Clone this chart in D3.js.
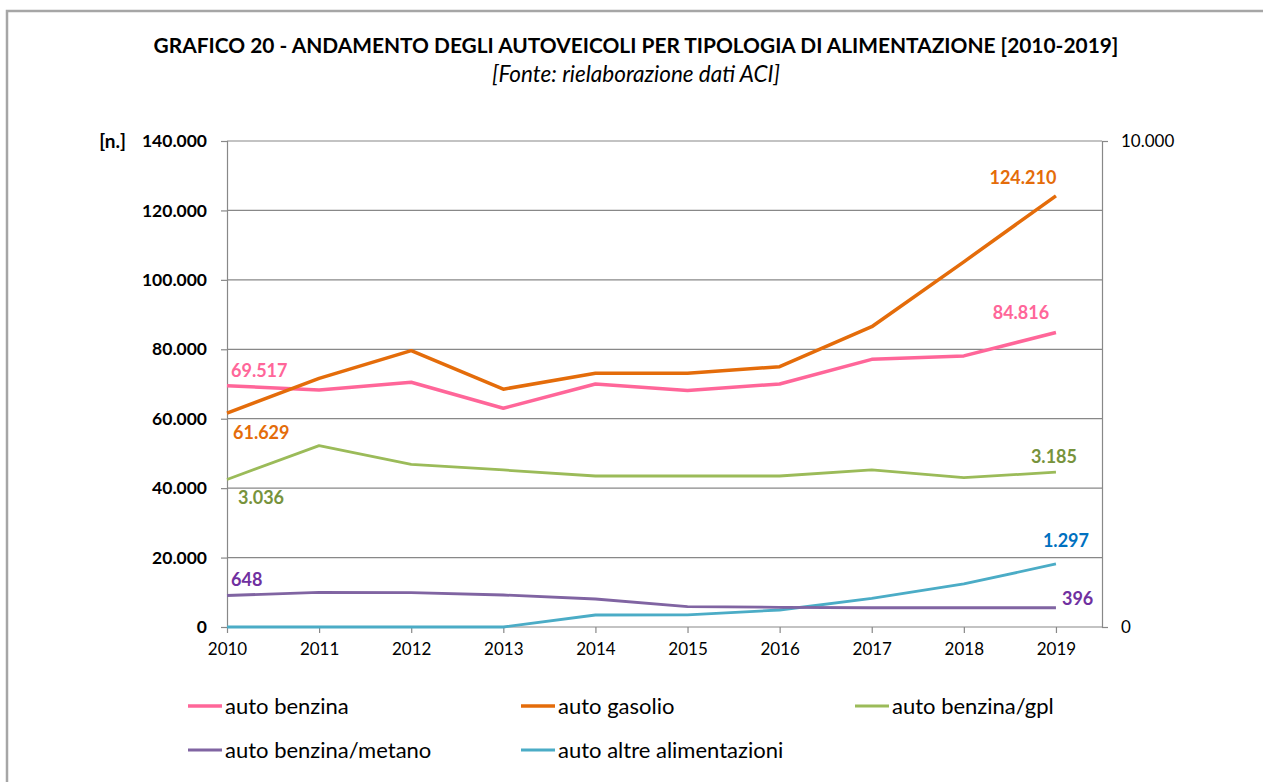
<!DOCTYPE html>
<html>
<head>
<meta charset="utf-8">
<script src="https://cdn.jsdelivr.net/npm/d3@7"></script>
<style>
  body { margin: 0; background: #fff; }
  svg { display: block; font-family: Lato, "Open Sans", sans-serif; }
</style>
</head>
<body>
<div id="chart"></div>
<script>
// anni
const years = [2010, 2011, 2012, 2013, 2014, 2015, 2016, 2017, 2018, 2019];

// asse sinistro
const benzina = [69517, 68300, 70500, 63000, 70000, 68100, 70000, 77100, 78100, 84816];
const gasolio = [61629, 71600, 79600, 68500, 73100, 73100, 75000, 86500, 105200, 124210];

// asse destro
const gpl = [3036, 3731, 3348, 3231, 3107, 3107, 3107, 3231, 3072, 3185];
const metano = [648, 714, 706, 658, 576, 418, 405, 396, 396, 396];
const altre = [0, 0, 0, 0, 247, 250, 350, 590, 885, 1297];

const leftTicks = [0, 20000, 40000, 60000, 80000, 100000, 120000, 140000];
const rightTicks = [0, 10000];

const width = 1263, height = 782;
const margin = { left: 227, right: 1102, top: 141, bottom: 627 };

const svg = d3.select("#chart").append("svg")
  .attr("width", width)
  .attr("height", height);

// cornice
svg.append("rect")
  .attr("x", 7).attr("y", 11)
  .attr("width", width + 20).attr("height", height + 20)
  .attr("fill", "none")
  .attr("stroke", "#a6a6a6")
  .attr("stroke-width", 2.5);

svg.append("text")
  .attr("x", 636).attr("y", 53)
  .attr("text-anchor", "middle")
  .attr("font-size", "20.9px")
  .attr("font-weight", "bold")
  .text("GRAFICO 20 - ANDAMENTO DEGLI AUTOVEICOLI PER TIPOLOGIA DI ALIMENTAZIONE [2010-2019]");

svg.append("text")
  .attr("x", 636).attr("y", 82)
  .attr("text-anchor", "middle")
  .attr("font-size", "22.5px")
  .attr("font-style", "italic")
  .text("[Fonte: rielaborazione dati ACI]");

const x = d3.scaleLinear().domain([2010, 2019.5]).range([margin.left, margin.right]);
const yL = d3.scaleLinear().domain([0, 140000]).range([margin.bottom, margin.top]);
const yR = d3.scaleLinear().domain([0, 10000]).range([margin.bottom, margin.top]);

const fmt = v => d3.format(",")(v).replace(/,/g, ".");
const grid = "#888";

// griglia
svg.append("g").selectAll("line")
  .data(leftTicks.filter(d => d > 0))
  .enter().append("line")
  .attr("x1", margin.left).attr("x2", margin.right)
  .attr("y1", d => yL(d)).attr("y2", d => yL(d))
  .attr("stroke", grid).attr("stroke-width", 1.2);

// asse sinistro
const axL = svg.append("g")
  .attr("transform", `translate(${margin.left},0)`)
  .call(d3.axisLeft(yL).tickValues(leftTicks).tickFormat(fmt).tickSize(6).tickPadding(14));
axL.selectAll("text").attr("font-size", "17.5px").attr("font-weight", "bold").attr("fill", "#000").attr("font-family", "Lato");

// asse destro
const axR = svg.append("g")
  .attr("transform", `translate(${margin.right},0)`)
  .call(d3.axisRight(yR).tickValues(rightTicks).tickFormat(fmt).tickSize(6).tickPadding(13));
axR.selectAll("text").attr("font-size", "17px").attr("fill", "#000").attr("font-family", "Lato");

// asse x
const axX = svg.append("g")
  .attr("transform", `translate(0,${margin.bottom})`)
  .call(d3.axisBottom(x).tickValues(years).tickFormat(d3.format("d")).tickSize(6).tickSizeOuter(0).tickPadding(10));
axX.selectAll("text").attr("font-size", "17px").attr("fill", "#000").attr("font-family", "Lato");

[axL, axR, axX].forEach(a => {
  a.selectAll("path, line").attr("stroke", grid).attr("stroke-width", 1.2);
});
axX.select("path").attr("d", `M${margin.left},0H${margin.right}`);

const series = [
  { name: "auto benzina", values: benzina, y: yL, color: "#ff6699", w: 3.5 },
  { name: "auto gasolio", values: gasolio, y: yL, color: "#e46c0a", w: 3.5 },
  { name: "auto benzina/gpl", values: gpl, y: yR, color: "#9bbb59", w: 2.8 },
  { name: "auto benzina/metano", values: metano, y: yR, color: "#8064a2", w: 2.8 },
  { name: "auto altre alimentazioni", values: altre, y: yR, color: "#4bacc6", w: 2.8 }
];

// disegno in ordine inverso per avere benzina/gasolio sopra
[4, 3, 2, 0, 1].forEach(i => {
  const s = series[i];
  const line = d3.line().x((d, j) => x(years[j])).y(d => s.y(d));
  svg.append("path")
    .datum(s.values)
    .attr("d", line)
    .attr("fill", "none")
    .attr("stroke", s.color)
    .attr("stroke-width", s.w)
    .attr("stroke-linejoin", "round");
});

// etichette valori
const labels = [
  { s: 0, i: 0, color: "#ff6699", dx: 4, dy: -15, anchor: "start" },
  { s: 0, i: 9, color: "#ff6699", dx: -35, dy: -20, anchor: "middle" },
  { s: 1, i: 0, color: "#e46c0a", dx: 6, dy: 20, anchor: "start" },
  { s: 1, i: 9, color: "#e46c0a", dx: -33, dy: -18, anchor: "middle" },
  { s: 2, i: 0, color: "#77933c", dx: 11, dy: 18, anchor: "start" },
  { s: 2, i: 9, color: "#77933c", dx: -2, dy: -16, anchor: "middle" },
  { s: 3, i: 0, color: "#7030a0", dx: 4, dy: -16, anchor: "start" },
  { s: 3, i: 9, color: "#7030a0", dx: 6, dy: -9, anchor: "start" },
  { s: 4, i: 9, color: "#0070c0", dx: 10, dy: -23, anchor: "middle" }
];

svg.append("g").selectAll("text")
  .data(labels)
  .enter().append("text")
  .attr("x", d => x(years[d.i]) + d.dx)
  .attr("y", d => series[d.s].y(series[d.s].values[d.i]) + d.dy)
  .attr("dy", "0.35em")
  .attr("text-anchor", d => d.anchor)
  .attr("font-size", "18px")
  .attr("font-weight", "bold")
  .attr("fill", d => d.color)
  .text(d => fmt(series[d.s].values[d.i]));

svg.append("text")
  .attr("x", 126).attr("y", 141)
  .attr("dy", "0.35em")
  .attr("text-anchor", "end")
  .attr("font-size", "19px")
  .attr("font-weight", "bold")
  .text("[n.]");

// legenda
const legendPos = [[188, 706], [521, 706], [855, 706], [188, 750], [521, 750]];
const leg = svg.append("g").selectAll("g")
  .data(series)
  .enter().append("g")
  .attr("transform", (d, i) => `translate(${legendPos[i][0]},${legendPos[i][1]})`);

leg.append("line")
  .attr("x1", 0).attr("x2", 34)
  .attr("stroke", d => d.color)
  .attr("stroke-width", d => d.w);

leg.append("text")
  .attr("x", 37)
  .attr("dy", "0.35em")
  .attr("font-size", "22px")
  .text(d => d.name);
</script>
</body>
</html>
